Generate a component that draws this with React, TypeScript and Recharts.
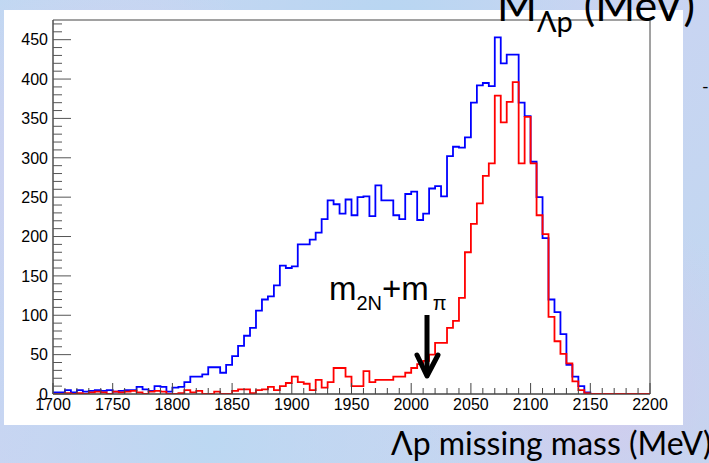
import React from 'react';
import { ComposedChart, Line, XAxis, YAxis, ReferenceArea } from 'recharts';

// 5 MeV bins from 1700 to 2200 (bin low edges, plus the closing edge)
const binEdges = Array.from({ length: 101 }, (_, i) => 1700 + 5 * i);

// all events (blue)
const allCounts = [
  2, 2, 5, 2, 5, 3, 4, 5, 4, 5, 3, 4, 5, 5, 9, 6, 4, 10, 9, 3,
  8, 9, 15, 22, 22, 25, 34, 34, 27, 37, 48, 61, 74, 84, 106, 120, 124, 138, 163, 160,
  162, 190, 190, 196, 205, 222, 246, 241, 229, 247, 227, 250, 251, 226, 265, 246, 246, 227, 222, 254,
  257, 221, 229, 261, 264, 251, 302, 314, 313, 326, 370, 392, 395, 391, 453, 420, 431, 431, 370, 353,
  295, 250, 198, 120, 104, 76, 37, 22, 10, 2, 0, 0, 0, 0, 0, 0, 0, 0, 0, 0,
];

// selected events (red)
const selCounts = [
  0, 0, 1, 0, 1, 0, 2, 3, 2, 0, 3, 2, 3, 4, 2, 0, 3, 4, 3, 0,
  0, 1, 5, 2, 4, 0, 0, 3, 0, 0, 4, 6, 6, 1, 5, 6, 9, 5, 10, 14,
  22, 15, 13, 5, 18, 8, 15, 33, 33, 22, 10, 10, 29, 15, 18, 18, 18, 22, 22, 27,
  33, 38, 42, 50, 65, 65, 84, 93, 122, 180, 216, 242, 277, 293, 379, 345, 371, 396, 293, 352,
  293, 227, 203, 98, 67, 51, 39, 16, 5, 1, 0, 0, 0, 0, 0, 0, 0, 0, 0, 0,
];

const xTicks = Array.from({ length: 51 }, (_, i) => 1700 + 10 * i);
const yTicks = Array.from({ length: 48 }, (_, i) => 10 * i);

const data = binEdges.map((x, i) => ({
  x,
  all: allCounts[Math.min(i, allCounts.length - 1)],
  sel: selCounts[Math.min(i, selCounts.length - 1)],
}));

const W = 709;
const H = 463;
const PLOT_LEFT = 53;
const PLOT_BOTTOM = 394;
const tickFont = '"Liberation Sans", Arial, sans-serif';

const XTick = (props: any) => {
  const { x, payload } = props;
  const v = payload.value;
  const major = v % 50 === 0;
  return (
    <g>
      <line x1={x} x2={x} y1={PLOT_BOTTOM} y2={PLOT_BOTTOM - (major ? 11 : 6)} stroke="#444" strokeWidth={1} />
      {major && (
        <text x={x} y={410} textAnchor="middle" fontFamily={tickFont} fontSize={16} fill="#000">
          {v}
        </text>
      )}
    </g>
  );
};

const YTick = (props: any) => {
  const { y, payload } = props;
  const v = payload.value;
  const major = v % 50 === 0;
  return (
    <g>
      <line x1={PLOT_LEFT} x2={PLOT_LEFT + (major ? 18 : 9)} y1={y} y2={y} stroke="#555" strokeWidth={1} />
      {major && (
        <text x={48} y={y} dy="0.36em" textAnchor="end" fontFamily={tickFont} fontSize={16} fill="#000">
          {v}
        </text>
      )}
    </g>
  );
};

export default function App() {
  return (
    <div
      style={{
        position: 'absolute',
        left: 0,
        top: 0,
        width: W,
        height: H,
        overflow: 'hidden',
        background:
          'radial-gradient(circle at 15% 35%, #d6d0f0 0%, rgba(214,208,240,0) 30%),' +
          'radial-gradient(circle at 85% 85%, #d2ccee 0%, rgba(210,204,238,0) 25%),' +
          'radial-gradient(circle at 55% 5%, #b8d6f2 0%, rgba(184,214,242,0) 40%),' +
          'radial-gradient(circle at 30% 95%, #bcd8f2 0%, rgba(188,216,242,0) 35%),' +
          'linear-gradient(135deg, #c0d8f2 0%, #cbd4f2 50%, #bed8f0 100%)',
      }}
    >
      <div style={{ position: 'absolute', left: 4, top: 10, width: 679, height: 415, background: '#fff' }} />
      <div style={{ position: 'absolute', left: 0, top: 0 }}>
        <ComposedChart width={W} height={H} data={data} margin={{ top: 20, right: 59, bottom: 39, left: 0 }}>
          <XAxis
            dataKey="x"
            type="number"
            domain={[1700, 2200]}
            ticks={xTicks}
            interval={0}
            tickLine={false}
            tick={XTick}
            height={30}
            axisLine={{ stroke: '#444', strokeWidth: 1 }}
          />
          <YAxis
            type="number"
            domain={[0, 475]}
            ticks={yTicks}
            interval={0}
            tickLine={false}
            tick={YTick}
            width={53}
            axisLine={{ stroke: '#555', strokeWidth: 1 }}
            allowDataOverflow
          />
          <ReferenceArea x1={1700} x2={2200} y1={0} y2={475} fill="none" stroke="#444" strokeWidth={1} ifOverflow="visible" />
          <Line type="stepAfter" dataKey="all" stroke="#0000ff" strokeWidth={1.8} dot={false} isAnimationActive={false} />
          <Line type="stepAfter" dataKey="sel" stroke="#ff0000" strokeWidth={1.8} dot={false} isAnimationActive={false} />
        </ComposedChart>
      </div>
      <svg width={W} height={H} style={{ position: 'absolute', left: 0, top: 0, pointerEvents: 'none' }}>
        <text x={329} y={300} fontFamily={tickFont} fontSize={33} fill="#000">
          m<tspan fontSize={20} dy={10}>2N</tspan>
          <tspan fontSize={33} dy={-10}>+m</tspan>
          <tspan fontSize={20} dy={10} dx={4}>π</tspan>
        </text>
        <line x1={427} y1={315} x2={427} y2={372} stroke="#000" strokeWidth={5} />
        <polyline points="417,355 427,376 438,355" fill="none" stroke="#000" strokeWidth={5} strokeLinecap="round" strokeLinejoin="round" />
        <text x={497} y={21} fontFamily="Lato, sans-serif" fontSize={43} fill="#000">
          M<tspan fontSize={29} dy={11}>Λp</tspan>
          <tspan fontSize={43} dy={-11}> (MeV)</tspan>
        </text>
        <text x={702} y={93} fontFamily="Lato, sans-serif" fontSize={18} fill="#000">-</text>
        <text x={391} y={455} fontFamily="Lato, sans-serif" fontSize={32} fill="#000">
          Λp missing mass (MeV)
        </text>
      </svg>
    </div>
  );
}
